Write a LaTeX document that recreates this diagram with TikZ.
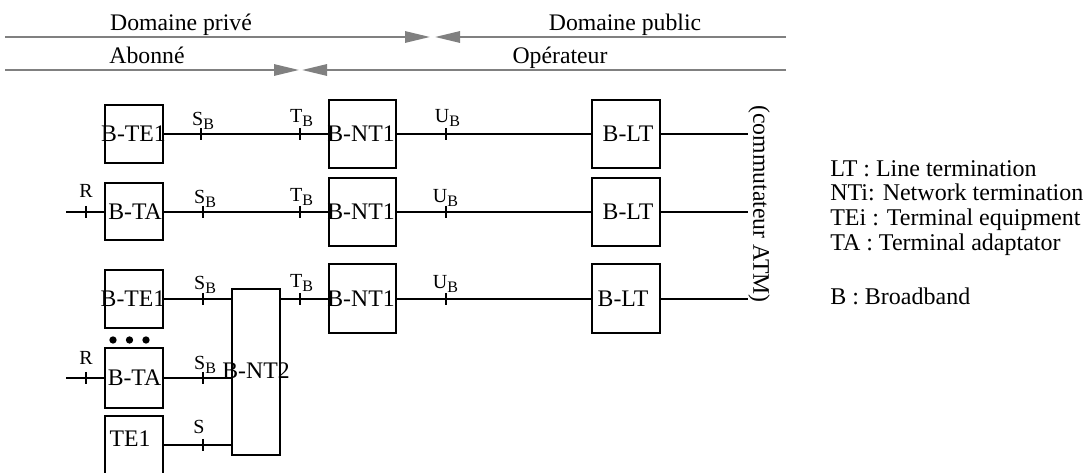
\documentclass[tikz,border=0pt]{standalone}
\usepackage{fontspec}
\setmainfont{Liberation Serif}
\usetikzlibrary{arrows.meta}
\definecolor{gline}{RGB}{128,128,128}
\newcommand\mainsize{\fontsize{17.8}{17.8}\selectfont}
\newcommand\legsize{\fontsize{18}{18.6}\selectfont}
\newcommand\labsize{\fontsize{15}{15}\selectfont}
\newcommand\subsz{\fontsize{12}{12}\selectfont}
\newcommand\subB{\raisebox{-3pt}{\subsz B}}
\tikzset{
  box/.style={draw, line width=1.5pt, inner sep=0pt, minimum width=#1},
  box/.default=43.5pt,
  txt/.style={inner sep=0pt, font=\mainsize},
  dom/.style={inner sep=0pt, font=\mainsize, anchor=base},
  wire/.style={line width=1.5pt},
  tk/.style={line width=1.5pt},
  grule/.style={draw=gline, line width=1.5pt, -{Triangle[length=18.75pt, width=8.5pt]}},
  lab/.style={inner sep=0pt, font=\labsize, anchor=base west},
  leg/.style={inner sep=0pt, font=\legsize, align=left, anchor=north west},
  dot/.style={circle, fill=black, inner sep=0pt, minimum size=5.5pt},
}
\begin{document}
\begin{tikzpicture}[x=0.75pt,y=-0.75pt]
\clip (0,0) rectangle (1085,473);

% top domain rules
\coordinate (g1l) at (5,37);   \coordinate (g1a) at (430,37);
\coordinate (g1b) at (435,37); \coordinate (g1r) at (786,37);
\coordinate (g2l) at (5,70);   \coordinate (g2a) at (299,70);
\coordinate (g2b) at (302,70); \coordinate (g2r) at (786,70);
\draw[grule] (g1l) -- (g1a);
\draw[grule] (g1r) -- (g1b);
\draw[grule] (g2l) -- (g2a);
\draw[grule] (g2r) -- (g2b);
\node[dom] (dpriv) at (181,31) {Domaine privé};
\node[dom] (dpub) at (625,31) {Domaine public};
\node[dom] (abon) at (147,64) {Abonné};
\node[dom] (oper) at (560,64) {Opérateur};

% boxes
\node[box, minimum height=43.5pt] (te1a) at (134,134) {};
\node[box=50.25pt, minimum height=51pt] (nt1a) at (362.5,134) {};
\node[box=51pt, minimum height=51pt] (lta) at (626,134) {};

\node[box, minimum height=42.75pt] (taa) at (134,212) {};
\node[box=50.25pt, minimum height=51pt] (nt1b) at (362.5,212) {};
\node[box=51pt, minimum height=51pt] (ltb) at (626,212) {};

\node[box, minimum height=43.5pt] (te1c) at (134,299) {};
\node[box=50.25pt, minimum height=51.75pt] (nt1c) at (362.5,299) {};
\node[box=51pt, minimum height=51.75pt] (ltc) at (626,299) {};

\node[box=36pt, minimum height=124.5pt] (nt2) at (256,372) {};
\node[box, minimum height=45pt] (tad) at (134,378) {};
\node[box, minimum height=51pt] (te1e) at (134,450) {};

% box texts
\node[txt] (t-te1a) at (133.5,134) {B-TE1};
\node[txt] (t-nt1a) at (361,134) {B-NT1};
\node[txt] (t-lta) at (628,134) {B-LT};
\node[txt] (t-taa) at (135,212) {B-TA};
\node[txt] (t-nt1b) at (361,212) {B-NT1};
\node[txt] (t-ltb) at (628,212) {B-LT};
\node[txt] (t-te1c) at (133,299) {B-TE1};
\node[txt] (t-nt1c) at (361,299) {B-NT1};
\node[txt] (t-ltc) at (623,299) {B-LT};
\node[txt] (t-nt2) at (256,371) {B-NT2};
\node[txt] (t-tad) at (134.5,378) {B-TA};
\node[txt] (t-te1e) at (130,439) {TE1};

% dots
\node[dot] (d1) at (113,340) {};
\node[dot] (d2) at (129.5,340) {};
\node[dot] (d3) at (146,340) {};

% commutateur
\node[txt, rotate=-90] (comm) at (759,204) {(commutateur ATM)};

% wires
\coordinate (r2) at (66,212);
\coordinate (r4) at (66,378);
\draw[wire] (te1a.east) -- (nt1a.west);
\draw[wire] (nt1a.east) -- (lta.west);
\draw[wire] (lta.east) -- (lta.east -| comm.south);
\draw[wire] (r2) -- (taa.west);
\draw[wire] (taa.east) -- (nt1b.west);
\draw[wire] (nt1b.east) -- (ltb.west);
\draw[wire] (ltb.east) -- (ltb.east -| comm.south);
\draw[wire] (te1c.east) -- (te1c.east -| nt2.west);
\draw[wire] (nt2.east |- nt1c.west) -- (nt1c.west);
\draw[wire] (nt1c.east) -- (ltc.west);
\draw[wire] (ltc.east) -- (ltc.east -| comm.south);
\draw[wire] (r4) -- (tad.west);
\draw[wire] (tad.east) -- (tad.east -| nt2.west);
\draw[wire] (te1e.east |- 0,445) -- (nt2.west |- 0,445);

% ticks
\foreach \p in {(201,134),(300,134),(446,134),
                (86,212),(203,212),(300,212),(446,212),
                (203,299),(300,299),(446,299),
                (86,378),(203,378),(203,445)}
  \draw[tk] \p ++(0,-6) -- ++(0,12);

% tick labels
\node[lab] (l-s1) at (203,126) {\llap{S}\subB};
\node[lab] (l-t1) at (302,123) {\llap{T}\subB};
\node[lab] (l-u1) at (449,123) {\llap{U}\subB};
\node[lab, anchor=base] (l-r2) at (86,198) {R};
\node[lab] (l-s2) at (205,204) {\llap{S}\subB};
\node[lab] (l-t2) at (302,202) {\llap{T}\subB};
\node[lab] (l-u2) at (447,203) {\llap{U}\subB};
\node[lab] (l-s3) at (205,290) {\llap{S}\subB};
\node[lab] (l-t3) at (302,288) {\llap{T}\subB};
\node[lab] (l-u3) at (447,289) {\llap{U}\subB};
\node[lab, anchor=base] (l-r4) at (86,365) {R};
\node[lab] (l-s4) at (205,370) {\llap{S}\subB};
\node[lab, anchor=base] (l-s5) at (199,434) {S};

% legend
\node[leg] (legend) at (830,160) {LT : Line termination\\NTi: Network termination\\TEi : Terminal equipment\\TA : Terminal adaptator\\[22pt]B : Broadband};
\end{tikzpicture}
\end{document}
